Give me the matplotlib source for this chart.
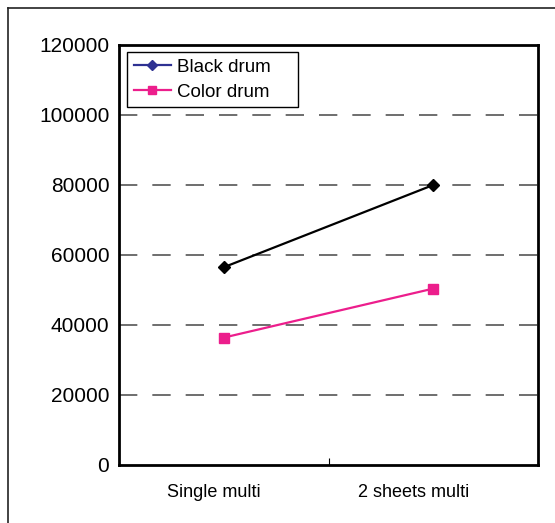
import matplotlib.pyplot as plt
import matplotlib.transforms as mtransforms
from matplotlib.lines import Line2D

plt.rcParams['font.family'] = ['Liberation Sans', 'DejaVu Sans']

categories = ['Single multi', '2 sheets multi']
black_drum = [56500, 80000]
color_drum = [36400, 50400]
yticks = [0, 20000, 40000, 60000, 80000, 100000, 120000]

navy = '#2e3192'
pink = '#ec1e8c'

fig = plt.figure(figsize=(5.55, 5.23), dpi=100)
ax = fig.add_axes([119/555, 58/523, 419/555, 420/523])

x = range(len(categories))
ax.plot(x, black_drum, color='black', lw=1.6, marker='D', markersize=6.5)
ax.plot(x, color_drum, color=pink, lw=1.6, marker='s', markersize=7)

# legend proxies (legend shows navy for the black drum series)
h1 = Line2D([], [], color=navy, lw=1.6, marker='D', markersize=5)
h2 = Line2D([], [], color=pink, lw=1.6, marker='s', markersize=6)
leg = ax.legend([h1, h2], ['Black drum', 'Color drum'], loc='upper left',
                bbox_to_anchor=(0.019, 0.5, 0.408, 0.483), mode='expand',
                fontsize=13.5, fancybox=False,
                framealpha=1, edgecolor='black', borderpad=0.35,
                labelspacing=0.42, handlelength=2.0, handletextpad=0.3,
                borderaxespad=0)
leg.get_frame().set_linewidth(1)

ax.set_xlim(-0.5, 1.5)
ax.set_ylim(0, 120000)
ax.set_yticks(yticks)
ax.set_yticklabels([str(v) for v in yticks], fontsize=15)
ax.tick_params(axis='y', length=0, pad=7)
ax.set_xticks(list(x))
ax.set_xticklabels(categories, fontsize=13)
ax.tick_params(axis='x', length=0, pad=14)
for lbl, dx in zip(ax.get_xticklabels(), [-10, -20]):
    shift = mtransforms.ScaledTranslation(dx/100, 0, fig.dpi_scale_trans)
    lbl.set_transform(lbl.get_transform() + shift)
ax.set_xticks([0.5], minor=True)
ax.tick_params(axis='x', which='minor', direction='in', length=5, width=0.8)

for v in yticks[1:-1]:
    ax.axhline(v, color='#555555', lw=1.2, linestyle=(0, (11, 9)), zorder=0)

for s in ax.spines.values():
    s.set_linewidth(2)
    s.set_color('black')

# outer frame of the chart area (cut off at right and bottom)
fig.add_artist(Line2D([8/555, 8/555], [0, 1 - 8/523], color='#222222', lw=1.2))
fig.add_artist(Line2D([8/555, 1], [1 - 8/523, 1 - 8/523], color='#222222', lw=1.2))

fig.savefig('out.png', dpi=100)
